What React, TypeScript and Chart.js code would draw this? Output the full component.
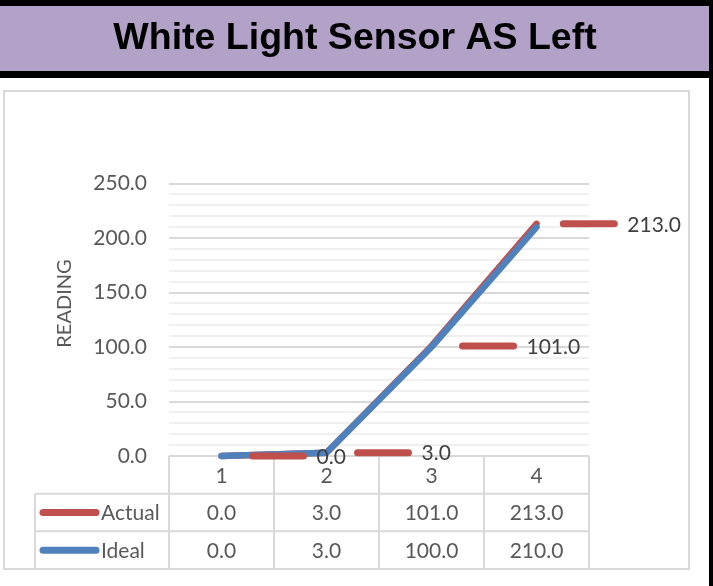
import React, { useEffect, useRef } from 'react';
import { Chart, registerables } from 'chart.js';

Chart.register(...registerables);

const chartTitle = 'White Light Sensor AS Left';
const yAxisTitle = 'READING';
const categories = ['1', '2', '3', '4'];
const seriesNames = ['Actual', 'Ideal'];
const actualValues = [0, 3, 101, 213];
const idealValues = [0, 3, 100, 210];
const yMin = 0;
const yMax = 250;
const yMajorStep = 50;
const yMinorStep = 10;

const RED = '#C0504D';
const BLUE = '#4F81BD';
const GRID = '#D9D9D9';
const MINOR = '#F0F0F0';
const TEXT = '#595959';
const LABEL = '#404040';
const FONT = 'Lato, "Noto Sans", sans-serif';

const W = 713;
const H = 586;

const fmt = (v: number) => v.toFixed(1);

const decorPlugin = {
  id: 'decor',
  beforeDraw(chart: any) {
    const ctx = chart.ctx;
    ctx.save();
    ctx.fillStyle = '#ffffff';
    ctx.fillRect(0, 0, W, H);
    // title bar
    ctx.fillStyle = '#000000';
    ctx.fillRect(0, 0, W, 78);
    ctx.fillStyle = '#B3A2C7';
    ctx.fillRect(0, 6, 709, 65);
    ctx.fillStyle = '#000000';
    ctx.fillRect(709, 0, 4, H);
    ctx.fillStyle = '#000000';
    ctx.font = 'bold 37.5px "Liberation Sans", Arial, sans-serif';
    ctx.textAlign = 'center';
    ctx.textBaseline = 'middle';
    ctx.fillText(chartTitle, 355, 39);
    // chart border
    ctx.strokeStyle = GRID;
    ctx.lineWidth = 2;
    ctx.strokeRect(4, 91, 685, 478);
    // y axis title
    ctx.save();
    ctx.translate(65, 303.5);
    ctx.rotate(-Math.PI / 2);
    ctx.fillStyle = TEXT;
    ctx.font = `20px ${FONT}`;
    ctx.textAlign = 'center';
    ctx.textBaseline = 'middle';
    ctx.fillText(yAxisTitle, 0, 0);
    ctx.restore();
    ctx.restore();
  },
  beforeDatasetsDraw(chart: any) {
    const ctx = chart.ctx;
    const area = chart.chartArea;
    const yScale = chart.scales.y;
    const n = categories.length;
    const slot = (area.right - area.left) / n;
    const top = yScale.getPixelForValue(yMin);
    const bottom = 569;
    const rowH = (bottom - top) / 3;
    const legendLeft = 35;
    ctx.save();
    ctx.strokeStyle = GRID;
    ctx.lineWidth = 2;
    ctx.beginPath();
    ctx.moveTo(area.left, top);
    ctx.lineTo(area.right, top);
    for (let r = 1; r <= 3; r++) {
      const y = top + rowH * r;
      ctx.moveTo(legendLeft, y);
      ctx.lineTo(area.right, y);
    }
    for (let c = 0; c <= n; c++) {
      const x = area.left + slot * c;
      ctx.moveTo(x, top);
      ctx.lineTo(x, bottom);
    }
    ctx.moveTo(legendLeft, top + rowH);
    ctx.lineTo(legendLeft, bottom);
    ctx.stroke();

    ctx.fillStyle = TEXT;
    ctx.font = `21px ${FONT}`;
    ctx.textAlign = 'center';
    ctx.textBaseline = 'middle';
    const rows = [actualValues, idealValues];
    for (let c = 0; c < n; c++) {
      const cx = area.left + slot * (c + 0.5);
      ctx.fillText(categories[c], cx, top + rowH * 0.5 + 1);
      rows.forEach((vals, r) => {
        ctx.fillText(fmt(vals[c]), cx, top + rowH * (r + 1.5) + 1);
      });
    }
    const colors = [RED, BLUE];
    seriesNames.forEach((name, r) => {
      const cy = top + rowH * (r + 1.5);
      ctx.strokeStyle = colors[r];
      ctx.lineWidth = 7;
      ctx.lineCap = 'round';
      ctx.beginPath();
      ctx.moveTo(43, cy);
      ctx.lineTo(96, cy);
      ctx.stroke();
      ctx.fillStyle = TEXT;
      ctx.textAlign = 'left';
      ctx.fillText(name, 101, cy + 1);
    });
    ctx.restore();
  },
  afterDatasetsDraw(chart: any) {
    const ctx = chart.ctx;
    const meta = chart.getDatasetMeta(0);
    const area = chart.chartArea;
    ctx.save();
    ctx.font = `21px ${FONT}`;
    ctx.textAlign = 'left';
    ctx.textBaseline = 'middle';
    meta.data.forEach((pt: any, i: number) => {
      const text = fmt(actualValues[i]);
      const tw = ctx.measureText(text).width;
      // keep the label inside the chart frame, as the spreadsheet does
      const maxRight = area.right + 92;
      const shift = Math.max(0, pt.x + 95 + tw - maxRight);
      const x = pt.x - shift;
      const y = pt.y;
      ctx.strokeStyle = RED;
      ctx.lineWidth = 7;
      ctx.lineCap = 'round';
      ctx.beginPath();
      ctx.moveTo(x + 31, y);
      ctx.lineTo(x + 82, y);
      ctx.stroke();
      ctx.fillStyle = LABEL;
      ctx.fillText(text, x + 95, y + 1);
    });
    ctx.restore();
  },
};

export default function App() {
  const ref = useRef<HTMLCanvasElement | null>(null);
  useEffect(() => {
    if (!ref.current) return;
    const chart = new Chart(ref.current, {
      type: 'line',
      data: {
        labels: categories,
        datasets: [
          {
            label: seriesNames[0],
            data: actualValues,
            borderColor: RED,
            backgroundColor: RED,
            borderWidth: 6.5,
            borderCapStyle: 'round',
            borderJoinStyle: 'round',
            pointRadius: 0,
            tension: 0,
            clip: false,
            order: 1,
          },
          {
            label: seriesNames[1],
            data: idealValues,
            borderColor: BLUE,
            backgroundColor: BLUE,
            borderWidth: 6.5,
            borderCapStyle: 'round',
            borderJoinStyle: 'round',
            pointRadius: 0,
            tension: 0,
            clip: false,
            order: 0,
          },
        ],
      } as any,
      options: {
        responsive: false,
        animation: false,
        devicePixelRatio: 1,
        layout: { padding: { left: 0, top: 183.5, right: W - 589, bottom: H - 456 } },
        plugins: {
          legend: { display: false },
          title: { display: false },
          tooltip: { enabled: false },
        },
        scales: {
          x: {
            type: 'category',
            offset: true,
            display: false,
          },
          y: {
            min: yMin,
            max: yMax,
            afterFit: (scale: any) => {
              scale.width = 169;
            },
            border: { display: false },
            grid: {
              drawTicks: false,
              color: (c: any) =>
                c.tick && c.tick.value === yMin
                  ? 'rgba(0,0,0,0)'
                  : c.tick && c.tick.value % yMajorStep === 0
                  ? GRID
                  : MINOR,
              lineWidth: 2,
            },
            ticks: {
              stepSize: yMinorStep,
              autoSkip: false,
              padding: 22,
              color: TEXT,
              font: { family: FONT, size: 21 },
              callback: (v: any) => (Number(v) % yMajorStep === 0 ? fmt(Number(v)) : ''),
            },
          },
        },
      } as any,
      plugins: [decorPlugin],
    });
    return () => chart.destroy();
  }, []);
  return (
    <div style={{ position: 'fixed', left: 0, top: 0, width: W, height: H, background: '#fff' }}>
      <canvas ref={ref} width={W} height={H} style={{ display: 'block', width: W, height: H }} />
    </div>
  );
}
